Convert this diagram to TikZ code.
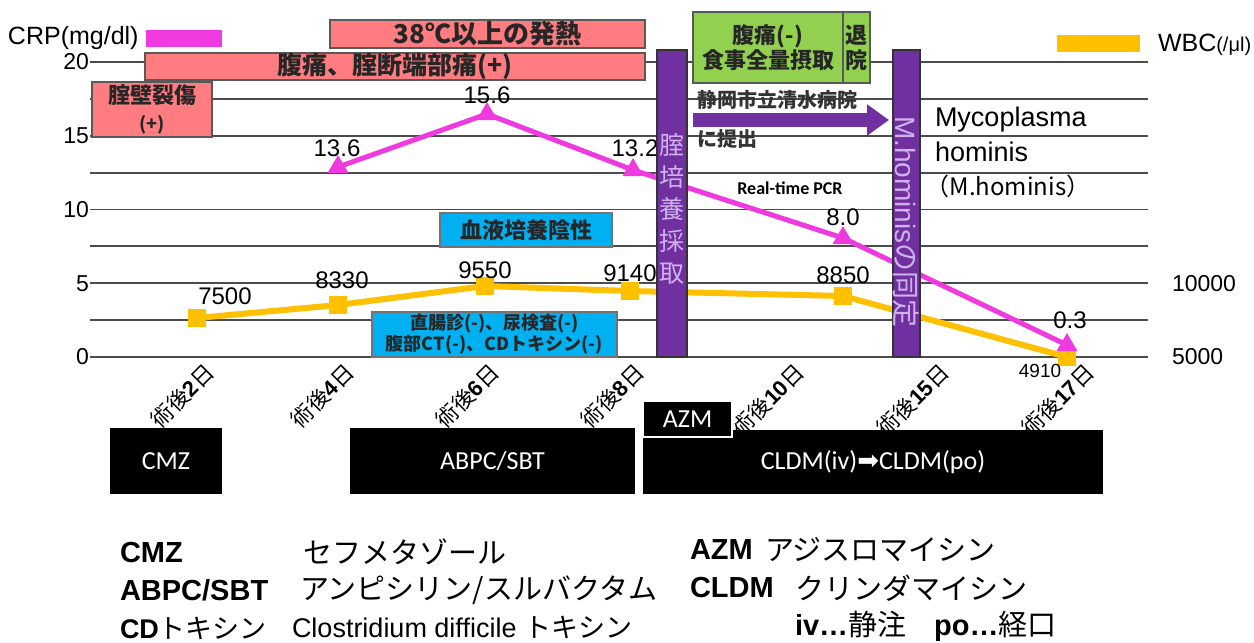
\documentclass[tikz,border=0pt]{standalone}
\usepackage{fontspec}
\setmainfont{Liberation Sans}
\newfontfamily\jp{Noto Sans CJK JP}
\newfontfamily\calfont{Carlito}
\newfontfamily\dvfont{DejaVu Sans}
\usetikzlibrary{shapes.geometric,arrows.meta}
\definecolor{salmon}{RGB}{255,124,128}
\definecolor{crppink}{RGB}{238,58,222}
\definecolor{wbcgold}{RGB}{255,192,0}
\definecolor{barviolet}{RGB}{112,48,160}
\definecolor{leaf}{RGB}{146,208,80}
\definecolor{sky}{RGB}{0,176,240}
\definecolor{lilac}{RGB}{206,178,236}

\begin{document}
\begin{tikzpicture}[x=0.5pt,y=-0.5pt,
	every node/.style={inner sep=0pt,outer sep=0pt},
	grid/.style={draw=black!70,line width=0.9pt},
	redbox/.style={draw=black!65,line width=0.6pt,fill=salmon,text=black!85,align=center},
	greenbox/.style={draw=black!65,line width=0.6pt,fill=leaf,text=black!85,align=center},
	bluebox/.style={draw=black!55,line width=0.6pt,fill=sky,text=black!85,align=center},
	bar/.style={draw=black!80,line width=0.8pt,fill=barviolet},
	drug/.style={fill=black,text=white},
	axisnum/.style={font=\fontsize{11.5}{13}\selectfont},
	datanum/.style={font=\fontsize{12}{14}\selectfont},
	crpmark/.style={regular polygon,regular polygon sides=3,fill=crppink,minimum size=12pt},
	wbcmark/.style={rectangle,fill=wbcgold,minimum size=9pt},
	crpline/.style={draw=crppink,line width=2.5pt,line join=round},
	wbcline/.style={draw=wbcgold,line width=3pt,line join=round},
	daylabel/.style={rotate=45,anchor=east,font=\fontsize{11}{13}\selectfont}]
\fill[white] (0,0) rectangle (1254,643);
\useasboundingbox (0,0) rectangle (1254,643);
\foreach \g in {0,...,8}
	\draw[grid] (90,357-36.875*\g) -- (1148,357-36.875*\g);
\foreach \v [count=\i from 0] in {0,5,10,15,20}
	\node[axisnum,anchor=east] (crp-axis-\i) at (89,357-73.75*\i) {\v};
\node[axisnum,anchor=west] (wbc-axis-1) at (1172,284) {10000};
\node[axisnum,anchor=west] (wbc-axis-2) at (1172,357) {5000};
\node[anchor=west,font=\fontsize{12.5}{14}\selectfont] (crp-legend) at (8,38) {CRP(mg/dl)};
\node[fill=crppink,minimum width=38pt,minimum height=8.5pt] (crp-swatch) at (184,38.5) {};
\node[fill=wbcgold,minimum width=41.5pt,minimum height=8.5pt] (wbc-swatch) at (1098,43) {};
\node[anchor=west,font=\fontsize{12.5}{14}\selectfont] (wbc-legend) at (1158,45) {WBC{\fontsize{10}{12}\selectfont(/μl)}};
\foreach \d/\x in {2/210,4/350,6/495,8/640,10/800,15/945,17/1090}
	\node[daylabel] (day-\d) at (\x,368) {{\jp 術後}\textbf{\d}{\jp 日}};

\node[redbox,font=\jp\bfseries\fontsize{13}{15}\selectfont,minimum width=157.5pt,minimum height=14pt] (fever) at (487.5,34) {38℃以上の発熱};
\node[redbox,font=\jp\bfseries\fontsize{12.5}{15}\selectfont,minimum width=250pt,minimum height=13.5pt] (pain) at (395,66.5) {腹痛、腟断端部痛(+)};
\node[redbox,font=\jp\bfseries\fontsize{11}{13.5}\selectfont,minimum width=60pt,minimum height=27.5pt] (tear) at (152,109.5) {腟壁裂傷\\{\fontsize{9}{11}\selectfont(+)}};

\foreach \x/\y [count=\i] in {197/318,338/305,485/286,630/291,843/296,1067/357}
	\coordinate (wbc-\i) at (\x,\y);
\foreach \x/\y [count=\i] in {338/167,487/114,633/170,843/238,1067/345}
	\coordinate (crp-\i) at (\x,\y);
\draw[wbcline] (wbc-1) -- (wbc-2) -- (wbc-3) -- (wbc-4) -- (wbc-5) -- (wbc-6);
\draw[crpline] (crp-1) -- (crp-2) -- (crp-3) -- (crp-4) -- (crp-5);
\foreach \i in {1,...,6}
	\node[wbcmark] at (wbc-\i) {};
\foreach \i in {1,...,5}
	\node[crpmark] at (crp-\i) {};
\foreach \t/\x/\y [count=\i] in {7500/225/296,8330/342/280,9550/485/270,9140/630/273,8850/843/275}
	\node[datanum] (wbc-val-\i) at (\x,\y) {\t};
\node[font=\fontsize{9.5}{11}\selectfont] (wbc-val-6) at (1040,371) {4910};
\foreach \t/\x/\y [count=\i] in {13.6/337/148,15.6/487/95,13.2/635/148,8.0/843/217,0.3/1070/320}
	\node[datanum] (crp-val-\i) at (\x,\y) {\t};

\node[bar,minimum width=15pt,minimum height=153.5pt] (culture) at (672,203.5) {};
\node[text=lilac,font=\jp\fontsize{12.5}{16}\selectfont,align=center] (culture-text) at (672,209) {腟\\培\\養\\採\\取};
\node[bar,minimum width=13.5pt,minimum height=153.5pt] (hominis) at (906.5,203.5) {};
\node[text=lilac,rotate=-90,font=\fontsize{14}{16}\selectfont] (hominis-text) at (906.5,222) {M.hominis{\jp の同定}};

\node[greenbox,font=\jp\bfseries\fontsize{11}{12.5}\selectfont,minimum width=75pt,minimum height=35.5pt] (meal) at (768,47.5) {腹痛(-)\\食事全量摂取};
\node[greenbox,font=\jp\bfseries\fontsize{11}{12.5}\selectfont,minimum width=13.5pt,minimum height=35.5pt] (leave) at (856.5,47.5) {退\\院};

\coordinate (send-a) at (693,120);
\coordinate (send-b) at (889,120);
\draw[barviolet,line width=7pt,-{Triangle[length=11pt,width=15pt]}] (send-a) -- (send-b);
\node[anchor=west,font=\jp\bfseries\fontsize{10}{12}\selectfont,text=black!80] (hospital) at (697,100) {静岡市立清水病院};
\node[anchor=west,font=\jp\bfseries\fontsize{10}{12}\selectfont,text=black!80] (submit) at (697,139) {に提出};
\node[font=\calfont\bfseries\fontsize{9}{11}\selectfont] (pcr) at (790,188) {Real-time PCR};
\node[anchor=west,font=\fontsize{13.5}{16}\selectfont] (myco-1) at (935,120) {Mycoplasma};
\node[anchor=west,font=\fontsize{13.5}{16}\selectfont] (myco-2) at (935,152) {hominis};
\node[font=\jp\fontsize{12}{14}\selectfont] (myco-3) at (1008,186) {（M.hominis）};

\node[bluebox,font=\jp\bfseries\fontsize{11}{13}\selectfont,minimum width=86pt,minimum height=17pt] (blood) at (526,230) {血液培養陰性};
\node[bluebox,font=\jp\bfseries\fontsize{9}{10.5}\selectfont,minimum width=122.5pt,minimum height=22.5pt] (exams) at (494.5,334.5) {直腸診(-)、尿検査(-)\\腹部CT(-)、CDトキシン(-)};

\node[drug,font=\calfont\fontsize{13}{15}\selectfont,minimum width=56pt,minimum height=33pt] (cmz) at (166,461) {CMZ};
\node[drug,font=\calfont\fontsize{13}{15}\selectfont,minimum width=142.5pt,minimum height=33pt] (abpc) at (492.5,461) {ABPC/SBT};
\node[drug,font=\calfont\fontsize{13}{15}\selectfont,minimum width=230pt,minimum height=32pt] (cldm) at (873,462) {CLDM(iv){\dvfont ➡}CLDM(po)};
\node[drug,draw=white,line width=0.8pt,font=\calfont\fontsize{13}{15}\selectfont,minimum width=44.5pt,minimum height=18pt] (azm) at (687.5,419) {AZM};

\node[anchor=west,font=\bfseries\fontsize{14.5}{17}\selectfont] (cmz-abbr) at (120,553) {CMZ};
\node[anchor=west,font=\jp\fontsize{14.5}{17}\selectfont] (cmz-name) at (303,552) {セフメタゾール};
\node[anchor=west,font=\bfseries\fontsize{14.5}{17}\selectfont] (abpc-abbr) at (120,590) {ABPC/SBT};
\node[anchor=west,font=\jp\fontsize{14.5}{17}\selectfont] (abpc-name) at (300,590) {アンピシリン/スルバクタム};
\node[anchor=west,font=\fontsize{13.5}{16}\selectfont] (cd-abbr) at (120,628) {\textbf{CD}{\jp トキシン}};
\node[anchor=west,font=\fontsize{13.5}{16}\selectfont] (cd-name) at (292,627) {Clostridium difficile {\jp トキシン}};
\node[anchor=west,font=\bfseries\fontsize{14.5}{17}\selectfont] (azm-abbr) at (690,550) {AZM};
\node[anchor=west,font=\jp\fontsize{14.5}{17}\selectfont] (azm-name) at (765,550) {アジスロマイシン};
\node[anchor=west,font=\bfseries\fontsize{14.5}{17}\selectfont] (cldm-abbr) at (690,588) {CLDM};
\node[anchor=west,font=\jp\fontsize{14.5}{17}\selectfont] (cldm-name) at (795,588) {クリンダマイシン};
\node[anchor=west,font=\fontsize{14.5}{17}\selectfont] (route) at (795,626) {\textbf{iv…}{\jp 静注}\hspace{14pt}\textbf{po…}{\jp 経口}};
\end{tikzpicture}
\end{document}
